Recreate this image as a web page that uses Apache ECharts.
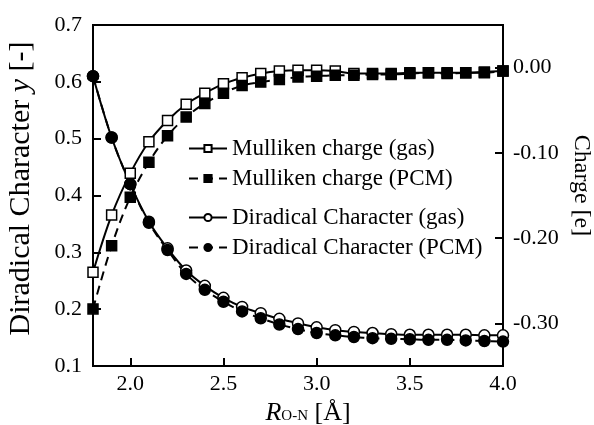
<!DOCTYPE html>
<html>
<head>
<meta charset="utf-8">
<script src="https://cdn.jsdelivr.net/npm/echarts@6/dist/echarts.min.js"></script>
<style>
    html, body { margin: 0; padding: 0; background: #fff; }
    #chart { width: 594px; height: 425px; }
</style>
</head>
<body>
<div id="chart"></div>
<script>
// R(O-N) distances
var distances = [1.8, 1.9, 2.0, 2.1, 2.2, 2.3, 2.4, 2.5, 2.6, 2.7, 2.8, 2.9,
    3.0, 3.1, 3.2, 3.3, 3.4, 3.5, 3.6, 3.7, 3.8, 3.9, 4.0];

// Mulliken charge [e], right axis
var mullikenGas = [-0.240, -0.173, -0.124, -0.087, -0.062, -0.043, -0.030, -0.019, -0.012, -0.007, -0.004, -0.003,
    -0.003, -0.004, -0.007, -0.007, -0.007, -0.006, -0.006, -0.006, -0.006, -0.005, -0.004];
var mullikenPcm = [-0.283, -0.209, -0.152, -0.111, -0.080, -0.058, -0.042, -0.030, -0.021, -0.017, -0.014, -0.011,
    -0.010, -0.009, -0.009, -0.008, -0.008, -0.007, -0.006, -0.007, -0.006, -0.006, -0.004];

// diradical character y, left axis
var diradicalGas = [0.610, 0.502, 0.420, 0.354, 0.307, 0.268, 0.241, 0.220, 0.204, 0.193, 0.183, 0.175,
    0.168, 0.163, 0.160, 0.158, 0.156, 0.155, 0.155, 0.155, 0.155, 0.154, 0.154];
var diradicalPcm = [0.610, 0.502, 0.420, 0.352, 0.304, 0.262, 0.234, 0.213, 0.196, 0.184, 0.173, 0.165,
    0.158, 0.154, 0.151, 0.149, 0.148, 0.147, 0.146, 0.146, 0.145, 0.144, 0.143];

var xTicks = [2.0, 2.5, 3.0, 3.5, 4.0];
var chargeTicks = [-0.30, -0.20, -0.10, 0.00];

var FONT = 'Liberation Serif';

function pairs(ys) {
    return distances.map(function (x, i) { return [x, ys[i]]; });
}

function makeSeries(name, ys, axis, symbol, filled, dashed) {
    return {
        name: name,
        type: 'line',
        yAxisIndex: axis,
        data: pairs(ys),
        smooth: 0.35,
        symbol: symbol,
        symbolSize: symbol === 'circle' ? 11 : 10,
        showAllSymbol: true,
        lineStyle: { color: '#000', width: 2, type: dashed ? [9, 6] : 'solid' },
        itemStyle: { color: filled ? '#000' : '#fff', borderColor: '#000', borderWidth: 1.5 },
        emphasis: { disabled: true },
        animation: false
    };
}

var tickStyle = { show: true, inside: true, length: 8, lineStyle: { color: '#000', width: 2 } };
var labelFont = { fontFamily: FONT, fontSize: 22, color: '#000' };
var legendText = { fontFamily: FONT, fontSize: 23, color: '#000' };

var chart = echarts.init(document.getElementById('chart'));
chart.setOption({
    backgroundColor: '#fff',
    animation: false,
    grid: {
        left: 93, right: 91, top: 25, bottom: 59,
        containLabel: false,
        outerBoundsMode: 'none',
        show: true, borderColor: '#000', borderWidth: 2
    },
    legend: [{
        data: ['Mulliken charge (gas)', 'Mulliken charge (PCM)'],
        orient: 'vertical',
        left: 183, top: 132,
        itemWidth: 38, itemHeight: 9, itemGap: 7,
        textStyle: legendText
    }, {
        data: ['Diradical Character (gas)', 'Diradical Character (PCM)'],
        orient: 'vertical',
        left: 183, top: 201,
        itemWidth: 38, itemHeight: 9, itemGap: 7,
        textStyle: legendText
    }],
    xAxis: {
        type: 'value',
        min: 1.8, max: 4.0,
        splitLine: { show: false },
        axisLine: { onZero: false, lineStyle: { color: '#000', width: 2 } },
        axisTick: Object.assign({ customValues: xTicks }, tickStyle),
        axisLabel: Object.assign({
            customValues: xTicks, margin: 7,
            formatter: function (v) { return v.toFixed(1); }
        }, labelFont),
        name: '{r|R}{s|O-N}{n| [Å]}',
        nameLocation: 'middle',
        nameGap: 26,
        nameTextStyle: {
            padding: [0, 0, 0, 20],
            rich: {
                r: { fontFamily: FONT, fontSize: 26, fontStyle: 'italic', color: '#000' },
                s: { fontFamily: FONT, fontSize: 15, color: '#000', padding: [6, 0, 0, 0] },
                n: { fontFamily: FONT, fontSize: 26, color: '#000' }
            }
        }
    },
    yAxis: [{
        type: 'value',
        min: 0.1, max: 0.7, interval: 0.1,
        splitLine: { show: false },
        axisLine: { onZero: false, lineStyle: { color: '#000', width: 2 } },
        axisTick: tickStyle,
        axisLabel: Object.assign({
            margin: 11,
            formatter: function (v) { return v.toFixed(1); }
        }, labelFont),
        name: '{n|Diradical Character }{i|y}{n| [-]}',
        nameLocation: 'middle',
        nameGap: 57,
        nameTextStyle: {
            padding: [0, 0, 0, 14],
            rich: {
                n: { fontFamily: FONT, fontSize: 30, color: '#000' },
                i: { fontFamily: FONT, fontSize: 30, fontStyle: 'italic', color: '#000' }
            }
        }
    }, {
        type: 'value',
        position: 'right',
        min: -0.35, max: 0.05,
        splitLine: { show: false },
        axisLine: { show: true, onZero: false, lineStyle: { color: '#000', width: 2 } },
        axisTick: Object.assign({ customValues: chargeTicks }, tickStyle),
        axisLabel: Object.assign({
            customValues: chargeTicks, margin: 10,
            formatter: function (v) { return v.toFixed(2); }
        }, labelFont),
        name: 'Charge [e]',
        nameLocation: 'middle',
        nameRotate: -90,
        nameGap: 65,
        nameTextStyle: { fontFamily: FONT, fontSize: 24, color: '#000', padding: [0, 20, 0, 0] }
    }],
    series: [
        makeSeries('Mulliken charge (gas)', mullikenGas, 1, 'rect', false, false),
        makeSeries('Mulliken charge (PCM)', mullikenPcm, 1, 'rect', true, true),
        makeSeries('Diradical Character (gas)', diradicalGas, 0, 'circle', false, false),
        makeSeries('Diradical Character (PCM)', diradicalPcm, 0, 'circle', true, true)
    ]
});
</script>
</body>
</html>
